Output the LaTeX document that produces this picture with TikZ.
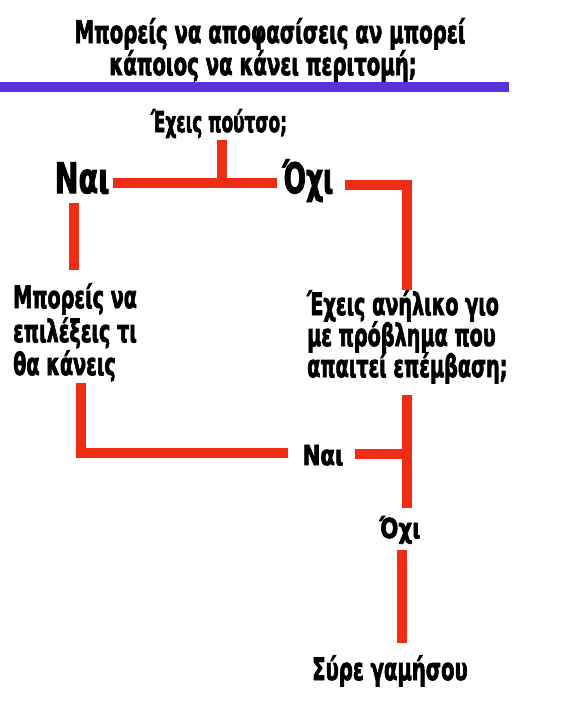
\documentclass[tikz,border=0pt]{standalone}
\usepackage{fontspec}
\newfontfamily\imp[FakeBold=3]{DejaVu Sans}
\newcommand\sqz[2]{\scalebox{#1}[1.1]{#2}}
\newcommand\sqt[2]{\scalebox{#1}[1]{#2}}
\definecolor{flowred}{RGB}{238,45,20}
\definecolor{barpurple}{RGB}{88,50,220}
\tikzset{
  lbl/.style={inner sep=0pt, text=black},
  fs/.style={font=\imp\bfseries\fontsize{#1}{#1}\selectfont},
  flow/.style={draw=flowred, line width=10pt, line join=miter, line cap=butt}
}
\begin{document}
\begin{tikzpicture}[x=1pt,y=-1pt]
\useasboundingbox (0,0) rectangle (566,720);
% title
\node[lbl, anchor=base, fs=31] (t1) at (270,43) {\sqt{0.635}{Μπορείς να αποφασίσεις αν μπορεί}};
\node[lbl, anchor=base, fs=31] (t2) at (263,75) {\sqt{0.635}{κάποιος να κάνει περιτομή;}};
\coordinate (barL) at (0,87);
\coordinate (barR) at (509,87);
\draw[barpurple, line width=10pt] (barL) -- (barR);
% question 1
\node[lbl, anchor=base, fs=26] (q1) at (219,132) {\sqz{0.65}{Έχεις πούτσο;}};
\node[lbl, anchor=base, fs=38] (nai1) at (82,193) {\sqz{0.75}{Ναι}};
\node[lbl, anchor=base, fs=38] (oxi1) at (308,193) {\sqz{0.69}{Όχι}};
% left text
\node[lbl, anchor=base west, fs=28] (l1) at (13,308) {\sqz{0.686}{Μπορείς να}};
\node[lbl, anchor=base west, fs=28] (l2) at (13,342) {\sqz{0.686}{επιλέξεις τι}};
\node[lbl, anchor=base west, fs=28] (l3) at (13,375) {\sqz{0.686}{θα κάνεις}};
% right text
\node[lbl, anchor=base west, fs=28] (r1) at (307,315) {\sqz{0.686}{Έχεις ανήλικο γιο}};
\node[lbl, anchor=base west, fs=28] (r2) at (307,346) {\sqz{0.686}{με πρόβλημα που}};
\node[lbl, anchor=base west, fs=28] (r3) at (307,377) {\sqz{0.686}{απαιτεί επέμβαση;}};
% lower labels
\node[lbl, anchor=base, fs=25] (nai2) at (323,465) {\sqz{0.85}{Ναι}};
\node[lbl, anchor=base, fs=25] (oxi2) at (400,538) {\sqz{0.85}{Όχι}};
\node[lbl, anchor=base, fs=28] (fin) at (390,680) {\sqz{0.70}{Σύρε γαμήσου}};
% connector points
\coordinate (stemTop) at (222,140);
\coordinate (j1) at (222,183);
\coordinate (hL) at (113,183);
\coordinate (hR) at (277,183);
\coordinate (rS) at (345,185);
\coordinate (rC) at (407,185);
\coordinate (rE) at (407,290);
\coordinate (lS) at (74,203);
\coordinate (lE) at (74,270);
\coordinate (bS) at (81,383);
\coordinate (bC) at (81,453);
\coordinate (bE) at (288,453);
\coordinate (nS) at (355,454);
\coordinate (nE) at (407,454);
\coordinate (vS) at (407,395);
\coordinate (vE) at (407,508);
\coordinate (fS) at (402,550);
\coordinate (fE) at (402,643);
% connectors
\draw[flow] (stemTop) -- (j1);
\draw[flow] (hL) -- (hR);
\draw[flow] (rS) -- (rC) -- (rE);
\draw[flow] (lS) -- (lE);
\draw[flow] (bS) -- (bC) -- (bE);
\draw[flow] (nS) -- (nE);
\draw[flow] (vS) -- (vE);
\draw[flow] (fS) -- (fE);
\end{tikzpicture}
\end{document}
